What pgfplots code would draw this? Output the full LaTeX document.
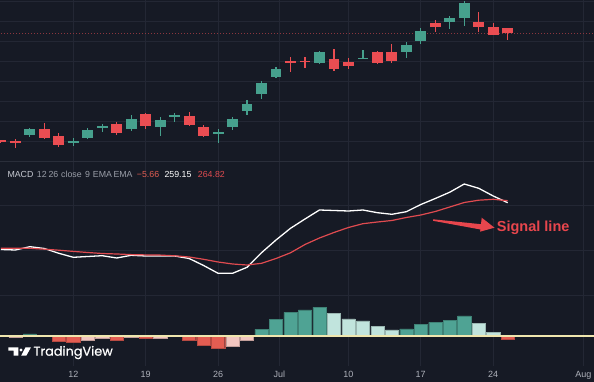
\documentclass[border=0pt]{standalone}
\usepackage{pgfplots}
\pgfplotsset{compat=1.18}
\usepackage{pgfplotstable}
\usepackage{fontspec}
\setmainfont{Liberation Sans}
\newfontfamily\logofont{Poppins}[FakeBold=0.6]
\definecolor{bg}{HTML}{161A25}
\definecolor{gridc}{HTML}{232734}
\definecolor{sepc}{HTML}{2A2E3A}
\definecolor{cup}{HTML}{46A08D}
\definecolor{cdn}{HTML}{EA4D52}
\definecolor{hup}{HTML}{4FA394}
\definecolor{hupl}{HTML}{C1E4DD}
\definecolor{hdn}{HTML}{E35D52}
\definecolor{hdnl}{HTML}{F2C6C0}
\definecolor{zeroc}{HTML}{EFE6AE}
\definecolor{sig}{HTML}{E04B50}
\definecolor{txt}{HTML}{AEB1BA}
\definecolor{lab}{HTML}{C8CBD3}
\definecolor{par}{HTML}{9A9EA8}
\definecolor{ann}{HTML}{E8464D}

% candles: i, low, body bottom, body top, high (pixel-derived price units)
\pgfplotstableread{
i lo b t hi
2 24.7 27 33 34.3
5 16.3 19.8 20.8 23.7
6 22.7 23.7 32 33.7
7 30.3 34.7 36 38
9 31.3 32.7 43 47
11 26.3 35.3 42 44.7
12 40.3 45.3 46.7 48.7
15 19.3 28.7 30 32.7
16 32 35 42.7 44.7
17 46.7 51.3 57.7 62
18 63 68 79.3 81.3
19 84 84.7 92.7 95.3
22 98 98.7 110.3 111.3
25 102.7 103 104.3 112
28 103.7 109.7 117 120.3
29 117.7 121.3 131.3 133.7
31 133 140.3 143.7 146
32 136.3 143.7 158.7 161
}\upc
\pgfplotstableread{
i lo b t hi
0 19 20 21.5 22
1 14.3 19.7 21 22.7
3 22.7 23.7 33 38.7
4 15.3 16.7 26 28.7
8 27 29.3 38 40.3
10 32.7 36 47.7 48.7
13 36 37.3 46 49.7
14 25.3 26.3 35 36.7
20 90.3 99.3 101.3 104.7
21 94.3 100 101.3 104.7
23 91 93 103 113
24 93 96 100.3 103.7
26 97.7 98.7 110.3 111.3
27 99.3 101.3 109.7 117.7
30 130.3 135.3 139.3 142
33 130.3 134.7 140.3 149.7
34 127 127 135.3 138.7
35 122 128.7 133.7 133.7
}\dnc
% MACD line (m) and signal line (s)
\pgfplotstableread{
i m s
0 86.5 87.7
1 86 87.7
2 89.3 87.7
3 87.5 86.8
4 82.7 85.8
5 78.7 84.6
6 79.5 83.5
7 80.3 82.5
8 78 82
9 80.7 81.4
10 80 81.1
11 80 80.9
12 80 80.2
13 77.5 79
14 70.5 76.7
15 62.7 74
16 62.7 72
17 68.7 71
18 83.3 72.7
19 96 77.5
20 107.7 83.2
21 117 91.5
22 126 98
23 125.5 103.5
24 125 108.5
25 126 112.3
26 123.3 114
27 121.7 115.5
28 124.3 118.5
29 131.5 121
30 137.5 124.5
31 143.8 129
32 152 133.5
33 147.7 135.8
34 140 136.7
35 133.3 135.3
}\macd
% histogram, one table per colour
\pgfplotstableread{
i v
2 2
18 6.7
19 16.7
20 23.7
21 26
22 28.7
28 7
29 11.7
30 13.7
31 15.7
32 20
}\hgup
\pgfplotstableread{
i v
3 0.4
23 22.7
24 17
25 15
26 9.3
27 6
33 12.7
34 3.7
}\hgupl
\pgfplotstableread{
i v
0 -0.6
4 -5
5 -6.7
8 -4.7
10 -2.7
13 -4
14 -9.7
15 -12.3
35 -3.3
}\hgdn
\pgfplotstableread{
i v
1 -1.3
6 -4.7
7 -2.7
9 -1
11 -2
12 -0.5
16 -10
17 -4
}\hgdnl

\pgfplotsset{
  tv/.style={scale only axis, width=594pt, xmin=-0.062, xmax=40.96,
    axis line style={draw=none}, major tick length=0pt,
    xtick=\empty, ytick=\empty, anchor=south west},
  body/.style={draw=none, mark=none, forget plot,
    error bars/.cd, y dir=both, y explicit, error mark=none,
    error bar style={draw=#1, line width=10.8pt}},
  wick/.style={draw=none, mark=none, forget plot,
    error bars/.cd, y dir=both, y explicit, error mark=none,
    error bar style={draw=#1, line width=1.2pt}},
  hbar/.style={ybar, bar width=13.2pt, bar shift=0pt, fill=#1, draw=#1!80!black, line width=0.4pt, forget plot},
  hgrid/.style={gridc, line width=0.8pt, forget plot},
}

\begin{document}
\begin{tikzpicture}
\useasboundingbox (0,0) rectangle (594pt,382pt);
\fill[bg] (0,0) rectangle (594pt,382pt);

% vertical grid and time axis
\begin{axis}[tv, at={(0pt,16pt)}, height=366pt, ymin=0, ymax=1,
  xtick={5,10,15,19.23,23.99,28.99,34,40.22},
  xticklabels={12,19,26,Jul,10,17,24,Aug},
  xmajorgrids, grid style={gridc, line width=0.8pt},
  xticklabel style={font=\fontsize{9}{10}\selectfont, text=txt, anchor=base, yshift=-11.7pt}]
\addplot[draw=none] coordinates {(0,0.5)};
\end{axis}

% candlestick panel
\begin{axis}[tv, at={(0pt,220pt)}, height=162pt, ymin=0, ymax=162]
\pgfplotsinvokeforeach{20.3,40.3,60.3,80.3,100.3,120.3,140.3,160.3}{
  \addplot[hgrid] coordinates {(-1,#1) (42,#1)};
}
\addplot[cdn!55!bg, line width=0.8pt, dash pattern=on 1pt off 2pt] coordinates {(-1,128.7) (42,128.7)};
\addplot[wick=cup] table[x=i, y expr=(\thisrow{hi}+\thisrow{lo})/2, y error expr=(\thisrow{hi}-\thisrow{lo})/2] {\upc};
\addplot[wick=cdn] table[x=i, y expr=(\thisrow{hi}+\thisrow{lo})/2, y error expr=(\thisrow{hi}-\thisrow{lo})/2] {\dnc};
\addplot[body=cup] table[x=i, y expr=(\thisrow{t}+\thisrow{b})/2, y error expr={max((\thisrow{t}-\thisrow{b})/2,0.7)}] {\upc};
\addplot[body=cdn] table[x=i, y expr=(\thisrow{t}+\thisrow{b})/2, y error expr={max((\thisrow{t}-\thisrow{b})/2,0.7)}] {\dnc};
\end{axis}

% MACD panel
\begin{axis}[tv, at={(0pt,16pt)}, height=204pt, ymin=-30, ymax=174]
\pgfplotsinvokeforeach{41,86,131}{
  \addplot[hgrid] coordinates {(-1,#1) (42,#1)};
}
\addplot[hbar=hup] table[x=i, y=v] {\hgup};
\addplot[hbar=hupl] table[x=i, y=v] {\hgupl};
\addplot[hbar=hdn] table[x=i, y=v] {\hgdn};
\addplot[hbar=hdnl] table[x=i, y=v] {\hgdnl};
\addplot[zeroc, line width=1.2pt] coordinates {(-1,0) (42,0)};
\addplot[white, line width=1.3pt] table[x=i, y=m] {\macd};
\addplot[sig, line width=1.2pt] table[x=i, y=s] {\macd};
\end{axis}

\draw[sepc, line width=1pt] (0,220pt) -- (594pt,220pt);

% indicator legend
\begin{scope}[every node/.style={anchor=base west, inner sep=0pt, font=\fontsize{8.8}{10}\selectfont}]
\node[text=lab] at (7.3pt,204.3pt) {MACD};
\node[text=par] at (36.7pt,204.3pt) {12};
\node[text=par] at (48.3pt,204.3pt) {26};
\node[text=par] at (61pt,204.3pt) {close};
\node[text=par] at (85pt,204.3pt) {9};
\node[text=par] at (92.7pt,204.3pt) {EMA};
\node[text=par] at (113.3pt,204.3pt) {EMA};
\node[text=hdn] at (136.7pt,204.3pt) {−5.66};
\node[text=white] at (164.3pt,204.3pt) {259.15};
\node[text=sig] at (197.7pt,204.3pt) {264.82};
\end{scope}

% annotation
\fill[ann] (433pt,162.7pt) -- (481pt,157.8pt) -- (481.7pt,164.3pt) -- (494.5pt,154.3pt)
  -- (480pt,150.3pt) -- (480.5pt,152.5pt) -- (433pt,161.2pt) -- cycle;
\node[anchor=base west, inner sep=0pt, text=ann, font=\fontsize{14.5}{16}\selectfont\bfseries] at (496.7pt,150.3pt) {Signal line};

% logo
\fill[white] (8.3pt,34.7pt) -- (18.3pt,34.7pt) -- (18.3pt,26.3pt) -- (13.5pt,26.3pt) -- (13.5pt,31.3pt) -- (8.3pt,31.3pt) -- cycle;
\fill[white] (21pt,32pt) circle[radius=1.7pt];
\fill[white] (25.5pt,34.7pt) -- (31pt,34.7pt) -- (26.3pt,26.3pt) -- (21.2pt,26.3pt) -- cycle;
\node[anchor=base west, inner sep=0pt, text=white, font=\logofont\fontsize{12.8}{14}\selectfont] at (33.3pt,26.3pt) {TradingView};
\end{tikzpicture}
\end{document}
